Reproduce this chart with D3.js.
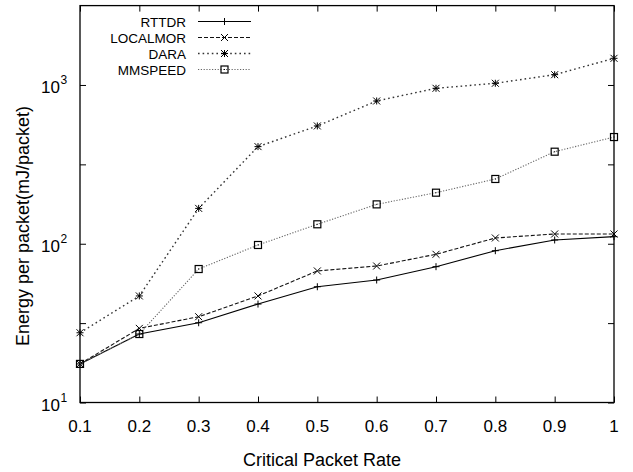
<!DOCTYPE html>
<html>
<head>
<meta charset="utf-8">
<script src="https://cdn.jsdelivr.net/npm/d3@7"></script>
<style>
  body { margin: 0; background: #fff; }
  svg text { font-family: "Liberation Sans", Arial, sans-serif; fill: #000; }
</style>
</head>
<body>
<script>
// critical packet rate on x, energy per packet (log) on y
const rates = [0.1, 0.2, 0.3, 0.4, 0.5, 0.6, 0.7, 0.8, 0.9, 1.0];
const rttdr = [17.5, 27.0, 31.8, 41.7, 53.6, 59.1, 71.7, 90.4, 105.6, 110.8];
const localmor = [17.5, 29.3, 34.7, 46.9, 67.4, 72.4, 85.8, 108.7, 115.2, 115.2];
const dara = [27.5, 46.9, 167, 409, 552, 793, 953, 1025, 1161, 1472];
const mmspeed = [17.5, 27.0, 69.3, 98.2, 132.6, 177, 209.7, 255.8, 380, 470];

const seriesNames = ["RTTDR", "LOCALMOR", "DARA", "MMSPEED"];
const xTickLabels = ["0.1", "0.2", "0.3", "0.4", "0.5", "0.6", "0.7", "0.8", "0.9", "1"];
const yLabelExponents = [1, 2, 3];

const WIDTH = 633;
const HEIGHT = 472;
const PLOT = { left: 80, right: 614, top: 5.6, bottom: 402.5 };

const svg = d3.select("body")
  .append("svg")
  .attr("width", WIDTH)
  .attr("height", HEIGHT);

const x = d3.scaleLinear().domain([0.1, 1]).range([PLOT.left, PLOT.right]);
const y = d3.scaleLog().domain([10, Math.pow(10, 3.5)]).range([PLOT.bottom, PLOT.top]);

// ticks on every side, pointing inwards
const tickLen = 6;
const yTickVals = [1, 1.5, 2, 2.5, 3].map(e => Math.pow(10, e));

const bottomAxis = d3.axisBottom(x).tickValues(rates).tickSize(-tickLen).tickFormat("");
const topAxis = d3.axisTop(x).tickValues(rates).tickSize(-tickLen).tickFormat("");
const leftAxis = d3.axisLeft(y).tickValues(yTickVals).tickSize(-tickLen).tickFormat("");
const rightAxis = d3.axisRight(y).tickValues(yTickVals).tickSize(-tickLen).tickFormat("");

function styleAxis(g) {
  g.select(".domain").remove();
  g.selectAll(".tick line").attr("stroke", "#000").attr("stroke-width", 1);
}

svg.append("g").attr("transform", `translate(0,${PLOT.bottom})`).call(bottomAxis).call(styleAxis);
svg.append("g").attr("transform", `translate(0,${PLOT.top})`).call(topAxis).call(styleAxis);
svg.append("g").attr("transform", `translate(${PLOT.left},0)`).call(leftAxis).call(styleAxis);
svg.append("g").attr("transform", `translate(${PLOT.right},0)`).call(rightAxis).call(styleAxis);

// frame
svg.append("rect")
  .attr("x", PLOT.left)
  .attr("y", PLOT.top)
  .attr("width", PLOT.right - PLOT.left)
  .attr("height", PLOT.bottom - PLOT.top)
  .attr("fill", "none")
  .attr("stroke", "#000")
  .attr("stroke-width", 1.3);

// x tick labels
svg.append("g").selectAll("text")
  .data(rates)
  .enter()
  .append("text")
  .attr("x", d => x(d))
  .attr("y", 432)
  .attr("text-anchor", "middle")
  .attr("font-size", "17px")
  .text((d, i) => xTickLabels[i]);

// y tick labels as powers of ten
const yLabels = svg.append("g").selectAll("g")
  .data(yLabelExponents)
  .enter()
  .append("g");

yLabels.append("text")
  .attr("x", 60)
  .attr("y", d => y(Math.pow(10, d)) + 8)
  .attr("text-anchor", "end")
  .attr("font-size", "17px")
  .text("10");

yLabels.append("text")
  .attr("x", 60.5)
  .attr("y", d => y(Math.pow(10, d)) - 1)
  .attr("font-size", "12px")
  .text(d => d);

// axis titles
svg.append("text")
  .attr("x", 322)
  .attr("y", 466)
  .attr("text-anchor", "middle")
  .attr("font-size", "18px")
  .text("Critical Packet Rate");

svg.append("text")
  .attr("transform", "translate(29,226) rotate(-90)")
  .attr("text-anchor", "middle")
  .attr("font-size", "18px")
  .text("Energy per packet(mJ/packet)");

// series styles
const styles = [
  { values: rttdr, stroke: "#000", dash: null, width: 1.1, marker: "plus" },
  { values: localmor, stroke: "#111", dash: "4,2", width: 1.1, marker: "cross" },
  { values: dara, stroke: "#333", dash: "1.6,3", width: 1.4, marker: "star" },
  { values: mmspeed, stroke: "#666", dash: "1.2,1.6", width: 1.1, marker: "box" }
];

const line = d3.line()
  .x(d => x(d[0]))
  .y(d => y(d[1]));

function drawMarker(g, type, cx, cy) {
  const s = 3.5;
  const m = g.append("g").attr("stroke", "#000").attr("stroke-width", 1).attr("fill", "none");
  if (type === "plus" || type === "star") {
    m.append("line").attr("x1", cx - s).attr("x2", cx + s).attr("y1", cy).attr("y2", cy);
    m.append("line").attr("x1", cx).attr("x2", cx).attr("y1", cy - s).attr("y2", cy + s);
  }
  if (type === "cross" || type === "star") {
    m.append("line").attr("x1", cx - s).attr("x2", cx + s).attr("y1", cy - s).attr("y2", cy + s);
    m.append("line").attr("x1", cx - s).attr("x2", cx + s).attr("y1", cy + s).attr("y2", cy - s);
  }
  if (type === "box") {
    m.append("rect").attr("x", cx - s).attr("y", cy - s).attr("width", 2 * s).attr("height", 2 * s)
      .attr("stroke-width", 1.2);
    m.append("rect").attr("x", cx - 0.5).attr("y", cy - 0.5).attr("width", 1).attr("height", 1)
      .attr("fill", "#000").attr("stroke", "none");
  }
}

const plotG = svg.append("g");

styles.forEach(s => {
  const pts = rates.map((r, i) => [r, s.values[i]]);
  plotG.append("path")
    .datum(pts)
    .attr("d", line)
    .attr("fill", "none")
    .attr("stroke", s.stroke)
    .attr("stroke-width", s.width)
    .attr("stroke-dasharray", s.dash);
  pts.forEach(p => drawMarker(plotG, s.marker, x(p[0]), y(p[1])));
});

// legend
const legend = svg.append("g");
const legendRowY = [21.5, 37.5, 53.5, 69.5];

styles.forEach((s, i) => {
  const ly = legendRowY[i];
  legend.append("text")
    .attr("x", 186)
    .attr("y", ly + 5)
    .attr("text-anchor", "end")
    .attr("font-size", "13.5px")
    .text(seriesNames[i]);
  legend.append("line")
    .attr("x1", 198)
    .attr("x2", 251)
    .attr("y1", ly)
    .attr("y2", ly)
    .attr("stroke", s.stroke)
    .attr("stroke-width", s.width)
    .attr("stroke-dasharray", s.dash);
  drawMarker(legend, s.marker, 224.5, ly);
});
</script>
</body>
</html>
